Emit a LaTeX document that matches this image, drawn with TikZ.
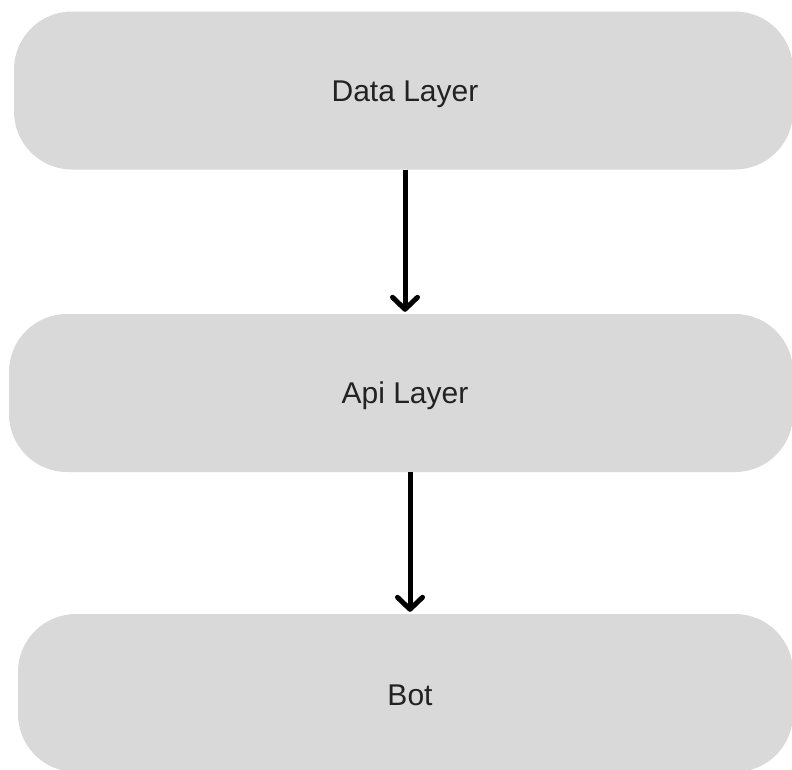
\documentclass[tikz,border=0pt]{standalone}
\usepackage{fontspec}
\setmainfont{Liberation Sans}
\usepackage{xcolor}
\definecolor{layerfill}{RGB}{217, 217, 217}
\definecolor{layertext}{RGB}{34, 34, 34}
\usepackage{tikz}
\usetikzlibrary{positioning, arrows.meta}

\begin{document}
\begin{tikzpicture}[x=1pt, y=-1pt,
    layer/.style={rectangle, rounded corners=58pt, fill=layerfill, text=layertext,
      minimum height=158pt, inner sep=0pt, font=\fontsize{30}{36}\selectfont},
    flow/.style={line width=5pt, -{Straight Barb[length=12pt, width=25pt, line cap=round, line join=round]}}]
  % Canvas
  \useasboundingbox (0,0) rectangle (792,769);
  \clip (0,0) rectangle (792,769);

  % Layers
  \node[layer, minimum width=779pt] (data) at (403.5, 90.5) {};
  \node[layertext, font=\fontsize{30}{36}\selectfont] (datatxt) at (405, 94) {Data Layer};
  \node[layer, minimum width=784pt] (api) at (401, 393) {};
  \node[layertext, font=\fontsize{30}{36}\selectfont] (apitxt) at (405, 396) {Api Layer};
  \node[layer, minimum width=775pt] (bot) at (405.5, 693) {};
  \node[layertext, font=\fontsize{30}{36}\selectfont] (bottxt) at (410, 695) {Bot};

  % Arrows
  \draw[flow] ([xshift=1.5pt]data.south) -- ([xshift=4pt, yshift=2pt]api.north);
  \draw[flow] ([xshift=9pt]api.south) -- ([xshift=4.5pt, yshift=2pt]bot.north);
\end{tikzpicture}
\end{document}
